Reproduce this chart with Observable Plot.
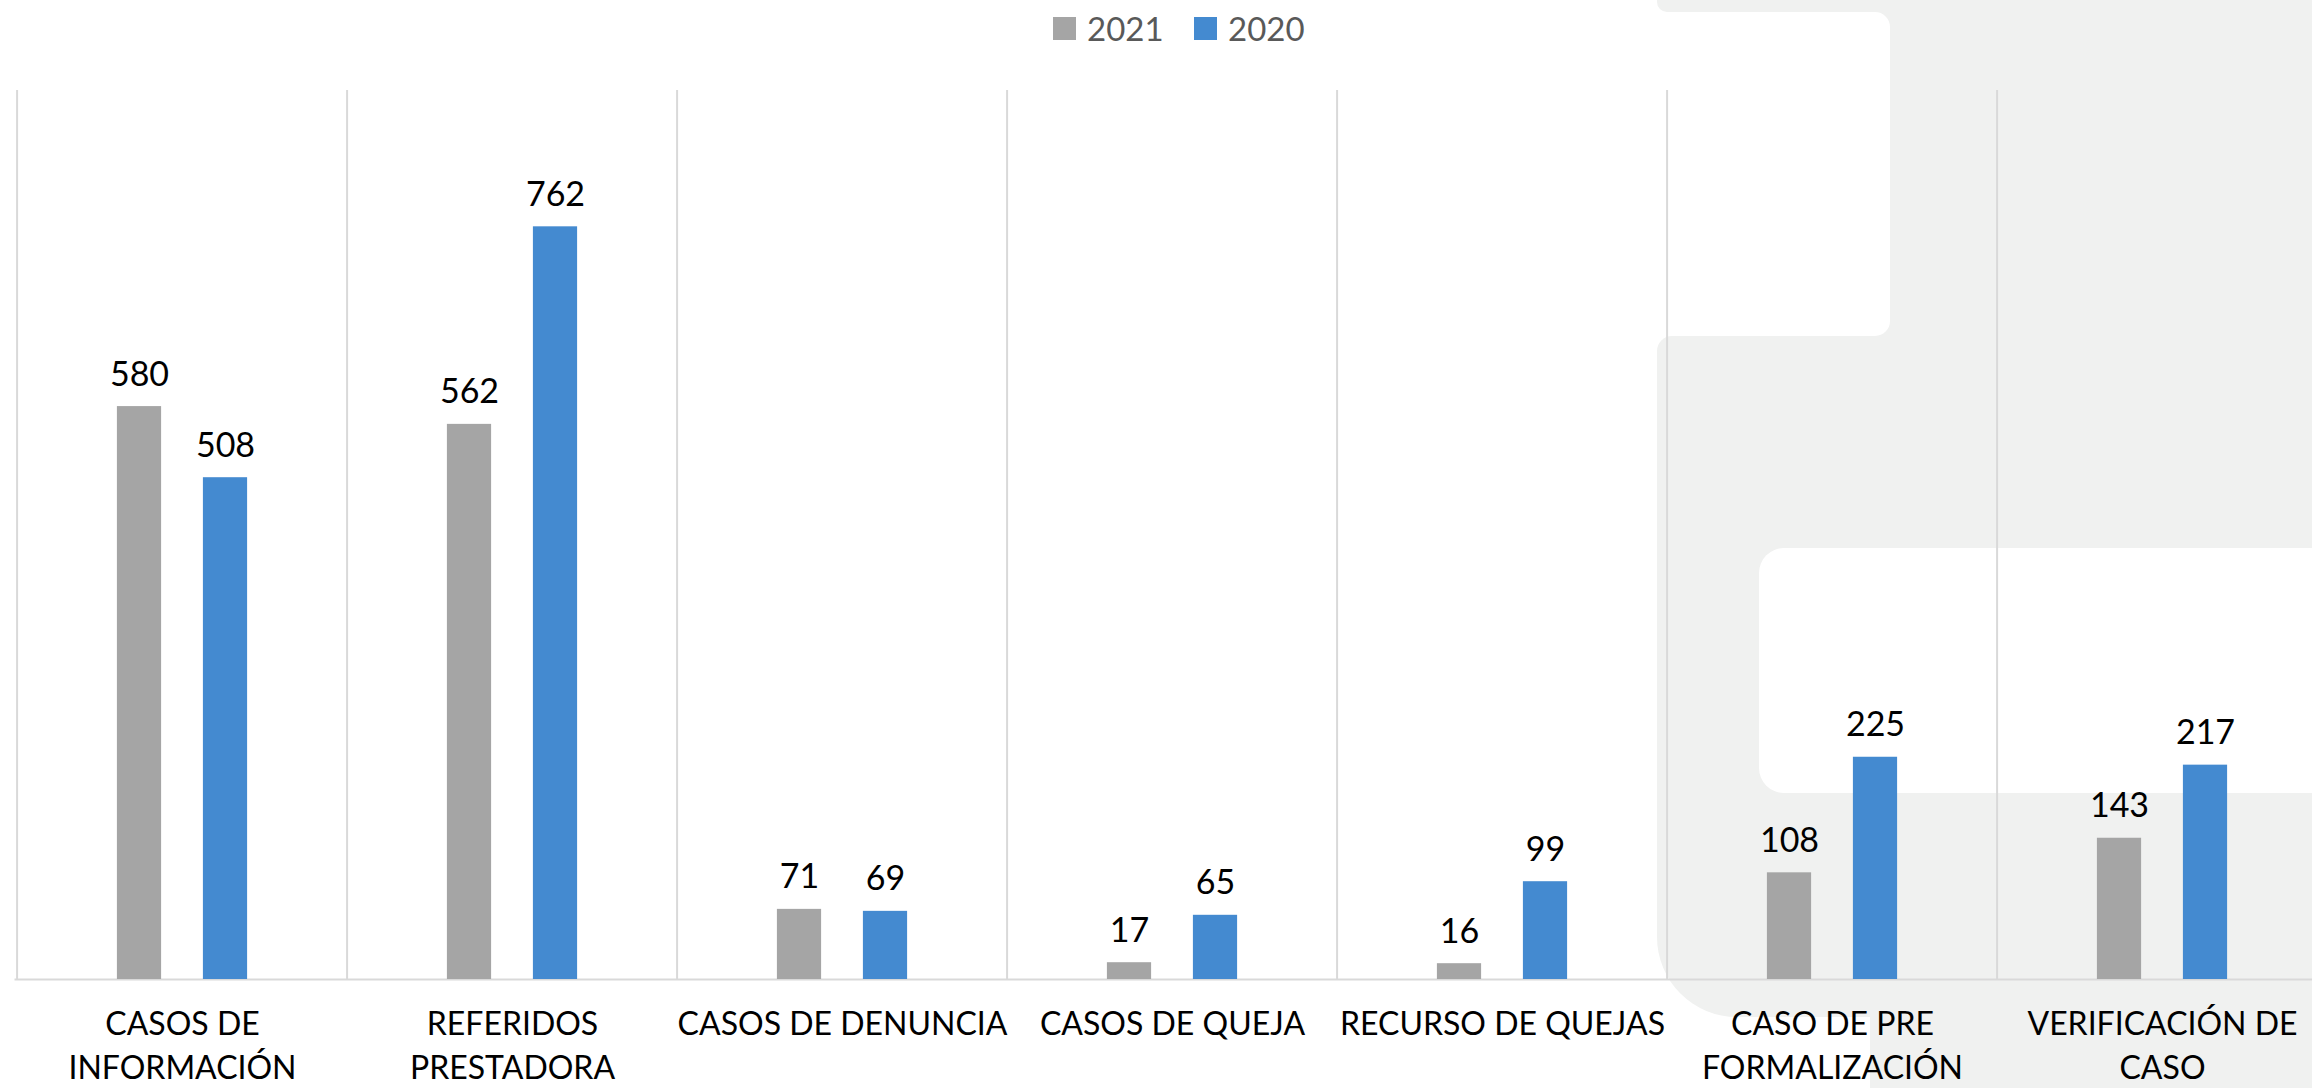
<!DOCTYPE html>
<html>
<head>
<meta charset="utf-8">
<script src="https://cdn.jsdelivr.net/npm/d3@7"></script>
<script src="https://cdn.jsdelivr.net/npm/@observablehq/plot@0.6"></script>
<style>
  html, body { margin: 0; padding: 0; width: 2312px; height: 1088px; overflow: hidden; background: #ffffff; font-family: Lato, "Noto Sans", sans-serif; }
  #bg { position: absolute; left: 0; top: 0; width: 2312px; height: 1088px; overflow: hidden; z-index: 0; }
  #bg div { position: absolute; }
  #legend { position: relative; height: 60px; z-index: 1; }
  #legend .item { position: absolute; top: 0; display: flex; align-items: center; height: 56px; }
  #legend .sw { width: 23px; height: 23px; margin-right: 11px; }
  #legend .lab { font-size: 33px; color: #595959; line-height: 1; }
  #chart { position: relative; z-index: 1; }
</style>
</head>
<body>
<div id="bg">
  <div style="left:1657px; top:-30px; width:700px; height:42px; background:#f0f1f0; border-radius:10px;"></div>
  <div style="left:1870px; top:-20px; width:480px; height:1130px; background:#f0f1f0;"></div>
  <div style="left:1600px; top:12px; width:290px; height:324px; background:#ffffff; border-radius:15px;"></div>
  <div style="left:1657px; top:336px; width:700px; height:681px; background:#f0f1f0; border-radius:15px 0 0 80px;"></div>
  <div style="left:1759px; top:548px; width:620px; height:245px; background:#ffffff; border-radius:25px;"></div>
</div>
<div id="legend"></div>
<div id="chart"></div>
<script>
const categories = [
  "CASOS DE INFORMACIÓN",
  "REFERIDOS PRESTADORA",
  "CASOS DE DENUNCIA",
  "CASOS DE QUEJA",
  "RECURSO DE QUEJAS",
  "CASO DE PRE FORMALIZACIÓN",
  "VERIFICACIÓN DE CASO"
];
const categoryLabels = [
  "CASOS DE\nINFORMACIÓN",
  "REFERIDOS\nPRESTADORA",
  "CASOS DE DENUNCIA",
  "CASOS DE QUEJA",
  "RECURSO DE QUEJAS",
  "CASO DE PRE\nFORMALIZACIÓN",
  "VERIFICACIÓN DE\nCASO"
];
const series = ["2021", "2020"];
const values2021 = [580, 562, 71, 17, 16, 108, 143];
const values2020 = [508, 762, 69, 65, 99, 225, 217];
const seriesColors = ["#a5a5a5", "#448ad0"];

const rows2021 = categories.map((c, i) => ({category: c, series: "2021", value: values2021[i]}));
const rows2020 = categories.map((c, i) => ({category: c, series: "2020", value: values2020[i]}));

// legend
const legend = document.getElementById("legend");
const legendLeft = [1053, 1194];
series.forEach((s, i) => {
  const item = document.createElement("div");
  item.className = "item";
  item.style.left = legendLeft[i] + "px";
  const sw = document.createElement("div");
  sw.className = "sw";
  sw.style.background = seriesColors[i];
  const lab = document.createElement("span");
  lab.className = "lab";
  lab.textContent = s;
  item.appendChild(sw);
  item.appendChild(lab);
  legend.appendChild(item);
});

const xLeft = 14.5, band = 330.8;
const barW = 45, offset = 43;
const inset = (band - barW) / 2;

const chart = Plot.plot({
  width: 2312,
  height: 1028,
  marginTop: 30,
  marginBottom: 109,
  marginLeft: xLeft,
  marginRight: 0,
  style: {fontFamily: "Lato, 'Noto Sans', sans-serif", background: "transparent", color: "#000"},
  x: {type: "band", domain: categories, range: [xLeft, xLeft + band * categories.length], padding: 0},
  y: {domain: [0, 900], axis: null},
  color: {domain: series, range: seriesColors},
  marks: [
    Plot.ruleX(categories, {x: d => d, dx: -band / 2, y1: 0, y2: 900, stroke: "#d9d9d9", strokeWidth: 2}),
    Plot.ruleY([0], {stroke: "#d9d9d9", strokeWidth: 2}),
    Plot.barY(rows2021, {x: "category", y: "value", fill: "series", dx: -offset, insetLeft: inset, insetRight: inset}),
    Plot.barY(rows2020, {x: "category", y: "value", fill: "series", dx: offset, insetLeft: inset, insetRight: inset}),
    Plot.text(rows2021, {x: "category", y: "value", text: d => String(d.value), dx: -offset, dy: -21, lineAnchor: "bottom", fontSize: 34, fill: "#000"}),
    Plot.text(rows2020, {x: "category", y: "value", text: d => String(d.value), dx: offset, dy: -21, lineAnchor: "bottom", fontSize: 34, fill: "#000"}),
    Plot.axisX({tickSize: 0, tickPadding: 24, fontSize: 32, lineHeight: 1.38, label: null, fill: "#000",
      tickFormat: d => categoryLabels[categories.indexOf(d)]})
  ]
});
document.getElementById("chart").appendChild(chart);
</script>
</body>
</html>
